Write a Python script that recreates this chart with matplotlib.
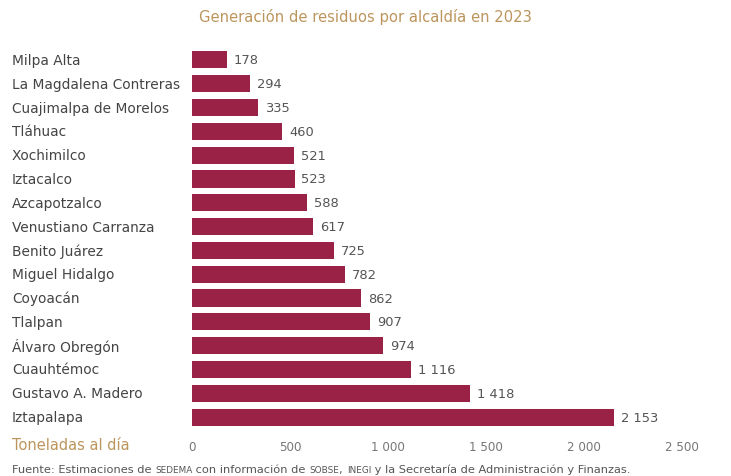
import matplotlib.pyplot as plt
import matplotlib.transforms as mtransforms

plt.rcParams['font.family'] = ['DejaVu Sans']

alcaldias = [
    "Milpa Alta", "La Magdalena Contreras", "Cuajimalpa de Morelos", "Tláhuac",
    "Xochimilco", "Iztacalco", "Azcapotzalco", "Venustiano Carranza",
    "Benito Juárez", "Miguel Hidalgo", "Coyoacán", "Tlalpan",
    "Álvaro Obregón", "Cuauhtémoc", "Gustavo A. Madero", "Iztapalapa",
]
toneladas = [178, 294, 335, 460, 521, 523, 588, 617, 725, 782, 862, 907, 974, 1116, 1418, 2153]
ticks = [0, 500, 1000, 1500, 2000, 2500]

guinda = "#9b2247"
dorado = "#bc955c"
gris = "#555555"


def fmt(v):
    # thousands separated by a space
    return f"{v:,}".replace(",", " ")


fig = plt.figure(figsize=(7.31, 4.77), dpi=100)
ax = fig.add_axes([192 / 731, 1 - 430 / 477, 490 / 731, 381 / 477])

y = list(range(len(alcaldias)))
ax.barh(y, toneladas, height=0.72, color=guinda)
ax.set_ylim(len(alcaldias) - 0.5, -0.5)
ax.set_xlim(0, 2500)

for yi, v in zip(y, toneladas):
    ax.annotate(fmt(v), xy=(v, yi), xytext=(5, 0), textcoords="offset points",
                va="center", ha="left", fontsize=9.4, color=gris)

# category names, left aligned at the figure edge
trans = mtransforms.blended_transform_factory(fig.transFigure, ax.transData)
for yi, name in zip(y, alcaldias):
    ax.text(12 / 731, yi, name, transform=trans, ha="left", va="center",
            fontsize=9.9, color="#444444")

ax.set_yticks([])
ax.set_xticks(ticks)
ax.set_xticklabels([fmt(t) for t in ticks], fontsize=8.6, color="#777777")
ax.tick_params(axis="x", length=0, pad=8)
for s in ax.spines.values():
    s.set_visible(False)

fig.text(12 / 731, 1 - 445 / 477, "Toneladas al día", fontsize=10.5,
         color=dorado, va="center", ha="left")
fig.text(0.5, 1 - 17 / 477, "Generación de residuos por alcaldía en 2023",
         fontsize=10.6, color=dorado, ha="center", va="center")

# source line with small-caps agency names
pieces = [
    ("Fuente: Estimaciones de ", 8.2), ("SEDEMA", 6.4),
    (" con información de ", 8.2), ("SOBSE", 6.4), (", ", 8.2),
    ("INEGI", 6.4), (" y la Secretaría de Administración y Finanzas.", 8.2),
]
prev = fig.text(12 / 731, 1 - 475 / 477, pieces[0][0], fontsize=pieces[0][1],
                color=gris, va="bottom", ha="left")
for txt, size in pieces[1:]:
    prev = ax.annotate(txt, xy=(1, 0), xycoords=prev, va="bottom", ha="left",
                       fontsize=size, color=gris, annotation_clip=False)

fig.savefig("out.png", dpi=100)
